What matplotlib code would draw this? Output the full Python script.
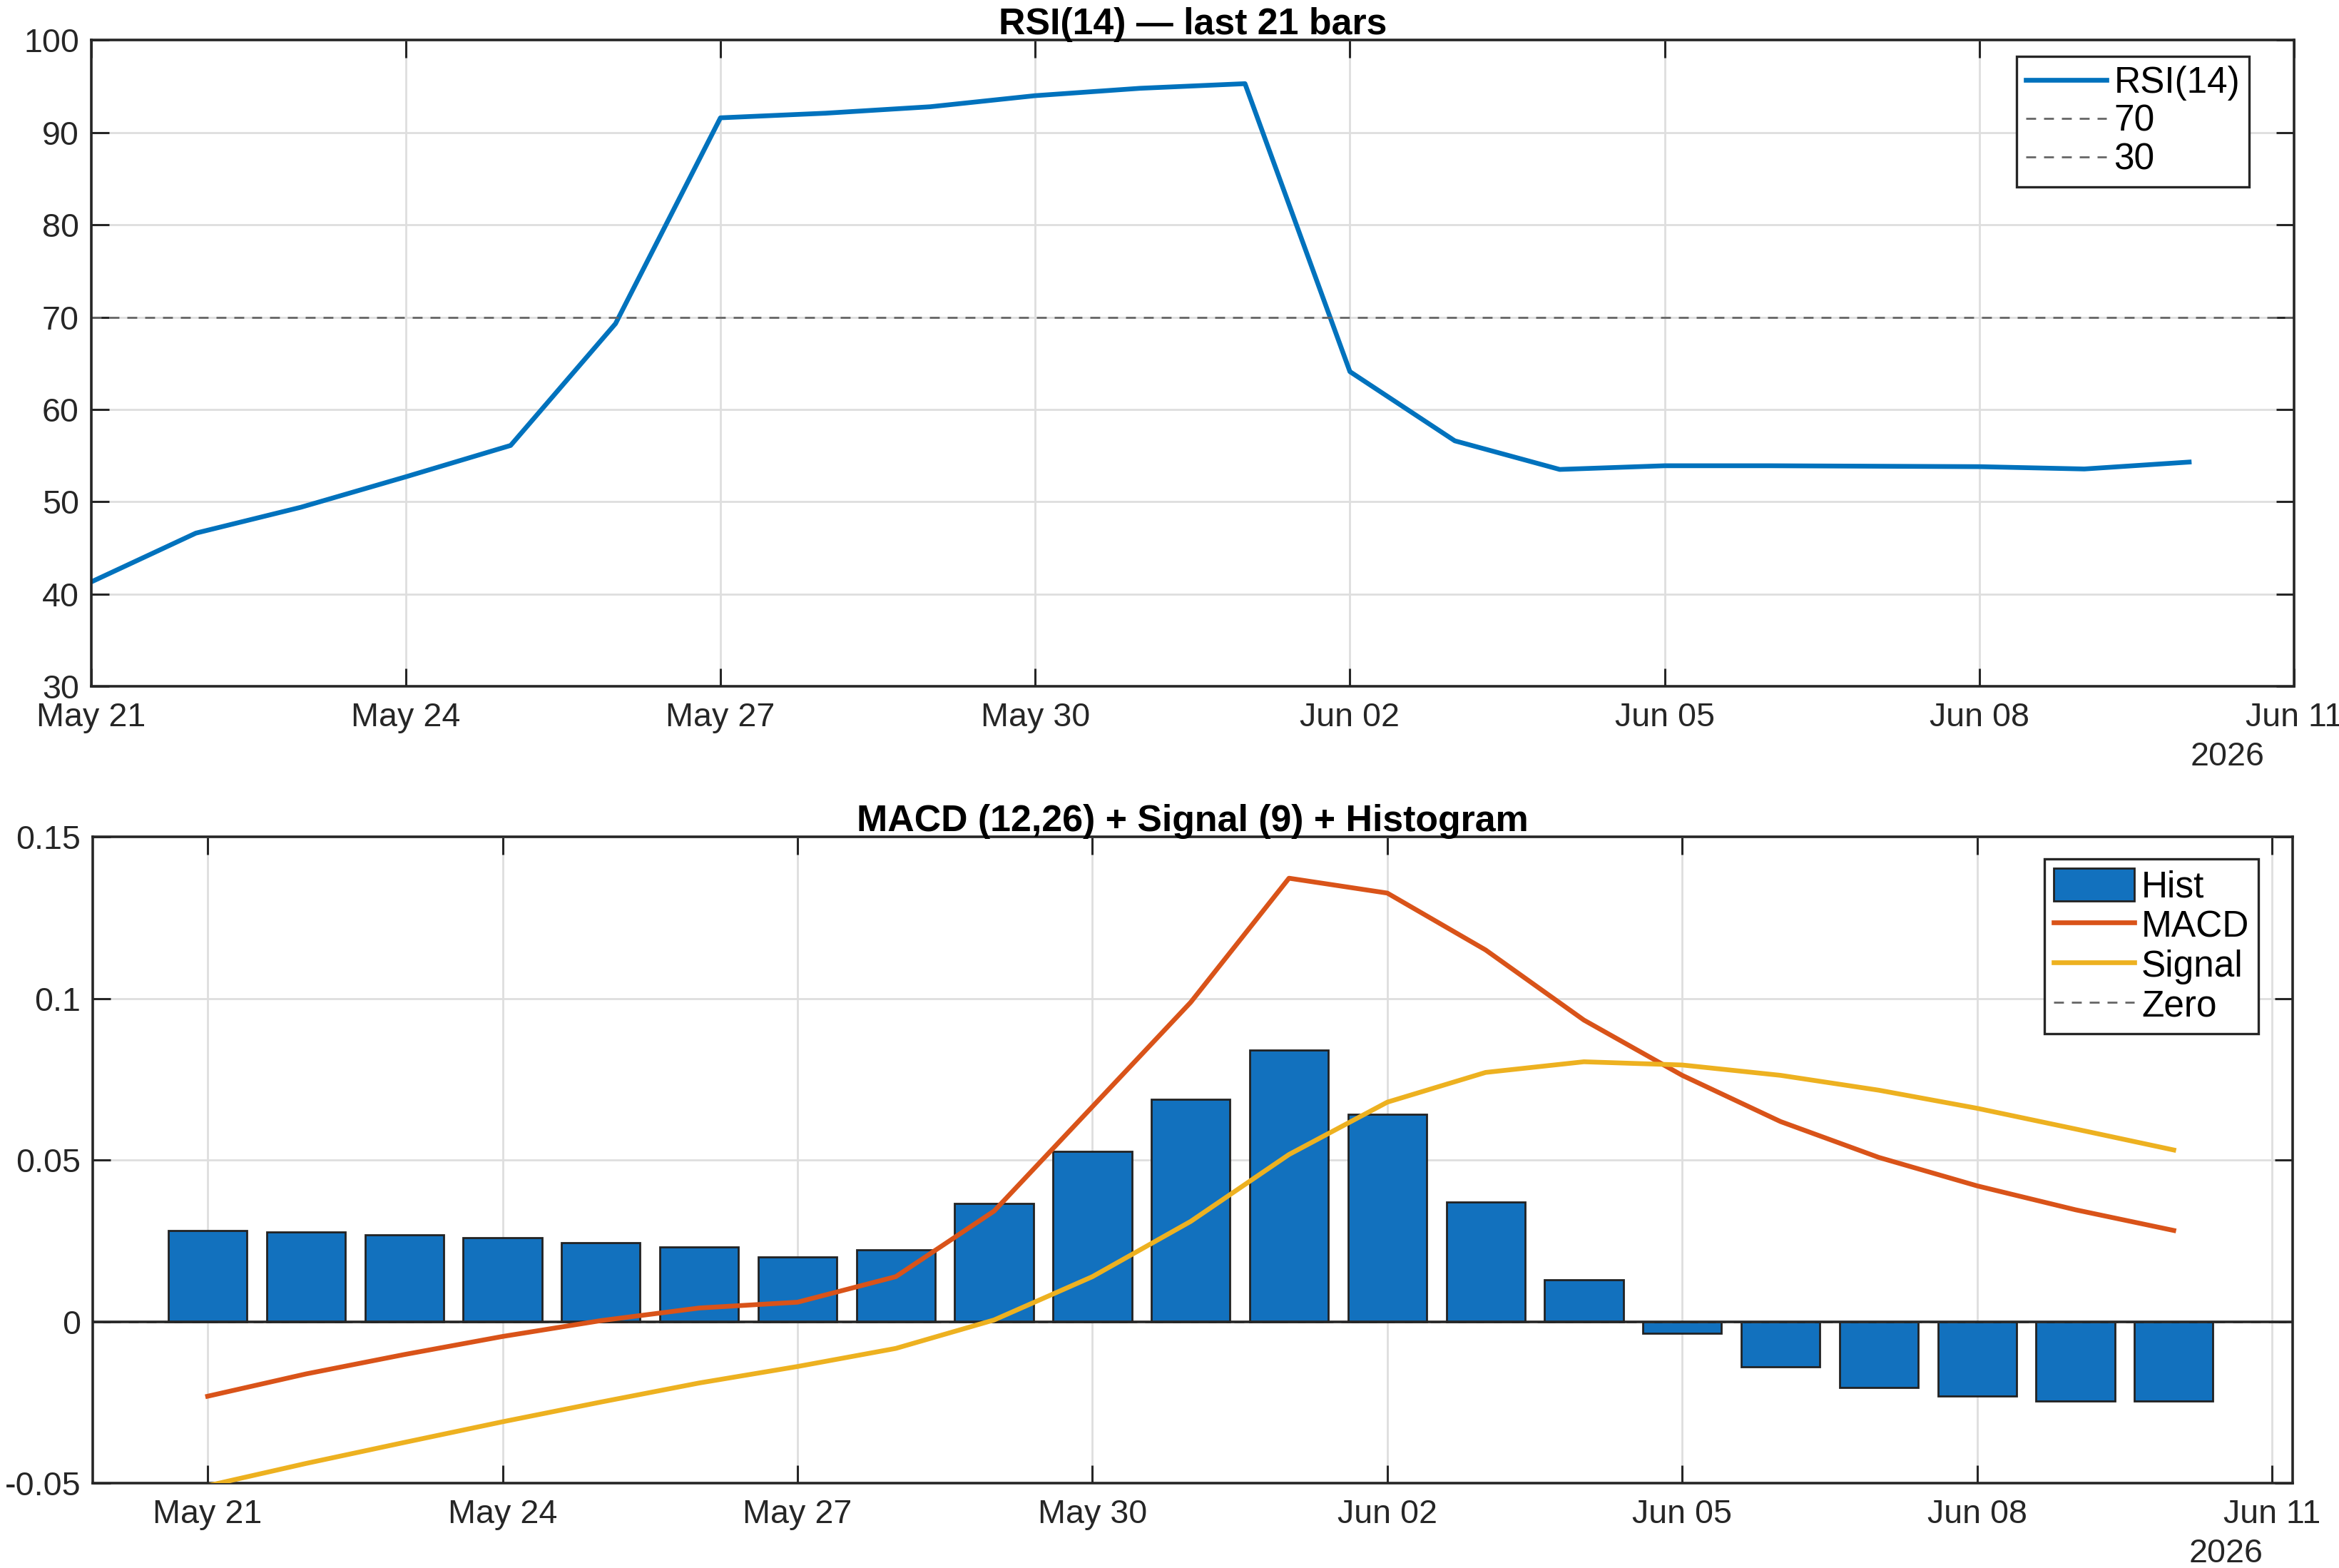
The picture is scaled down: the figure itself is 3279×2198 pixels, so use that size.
import numpy as np
import matplotlib
matplotlib.use("Agg")
import matplotlib.pyplot as plt
import matplotlib.dates as mdates
import matplotlib.transforms as mtransforms
from matplotlib.ticker import FuncFormatter, FixedLocator
from matplotlib.patches import Patch
from matplotlib.lines import Line2D
import datetime as dt

plt.rcParams['font.family'] = ['Liberation Sans', 'DejaVu Sans']

# ---------------- data ----------------
start_date = "2026-05-21"
n_bars = 21
rsi = [41.3, 46.6, 49.4, 52.7, 56.1, 69.3, 91.6, 92.1, 92.8, 94.0, 94.8, 95.3,
       64.1, 56.6, 53.5, 53.9, 53.9, 53.85, 53.8, 53.55, 54.3]
macd = [-0.0231, -0.0162, -0.0102, -0.0046, 0.0003, 0.0042, 0.0060, 0.0139,
        0.0342, 0.0665, 0.0988, 0.1372, 0.1326, 0.1150, 0.0933, 0.0762,
        0.0619, 0.0508, 0.0420, 0.0346, 0.0282]
signal = [-0.0508, -0.0439, -0.0374, -0.0310, -0.0249, -0.0190, -0.0139, -0.0083,
          0.0005, 0.0139, 0.0310, 0.0517, 0.0679, 0.0771, 0.0804, 0.0794,
          0.0762, 0.0716, 0.0660, 0.0596, 0.0531]
hist = [0.0282, 0.0277, 0.0268, 0.0259, 0.0245, 0.0231, 0.0199, 0.0222,
        0.0365, 0.0527, 0.0688, 0.0841, 0.0642, 0.0370, 0.0129, -0.0037,
        -0.0139, -0.0203, -0.0231, -0.0245, -0.0245]
tick_dates = ["2026-05-21", "2026-05-24", "2026-05-27", "2026-05-30",
              "2026-06-02", "2026-06-05", "2026-06-08", "2026-06-11"]
rsi_levels = [70, 30]
rsi_yticks = [30, 40, 50, 60, 70, 80, 90, 100]
macd_yticks = [-0.05, 0, 0.05, 0.1, 0.15]

dates = np.array([np.datetime64(start_date) + np.timedelta64(i, 'D') for i in range(n_bars)])
dnum = mdates.date2num(dates.astype('datetime64[D]').astype(dt.datetime))
tnum = mdates.date2num([dt.datetime.fromisoformat(t) for t in tick_dates])

# ---------------- style ----------------
AXC = '#262626'
BLUE = '#0072BD'
BAR = '#1271BE'
ORANGE = '#D95319'
YELLOW = '#EDB120'
REFG = '#666666'
FS = 16.8
LFS = 18.5
TFS = 18.7

fig = plt.figure(figsize=(3279/200, 2198/200), dpi=200)

def style_axes(ax):
    for s in ax.spines.values():
        s.set_color(AXC)
        s.set_linewidth(1.3)
    ax.tick_params(direction='in', length=9, width=1.1, colors=AXC, labelsize=FS,
                   top=True, right=True, labelcolor=AXC, pad=6)
    ax.tick_params(axis='x', pad=8)
    ax.grid(True, color='#dedede', linewidth=1.0)
    ax.set_axisbelow(True)
    ax.xaxis.set_major_locator(FixedLocator(tnum))
    ax.xaxis.set_major_formatter(mdates.DateFormatter('%b %d'))
    off = mtransforms.ScaledTranslation(-42/200, -99/200, fig.dpi_scale_trans)
    ax.text(1.0, 0.0, '2026', transform=ax.transAxes + off, ha='right', va='center',
            fontsize=FS, color=AXC)

# ---- RSI panel ----
ax1 = fig.add_axes([0.0389, 0.5623, 0.9419, 0.4120])
style_axes(ax1)
ax1.plot(dnum, rsi, color=BLUE, lw=2.4, label='RSI(14)')
for lv in rsi_levels:
    ax1.axhline(lv, color=REFG, lw=1.0, ls=(0, (5, 4)), label=str(lv))
ax1.set_xlim(tnum[0], tnum[-1])
ax1.set_ylim(30, 100)
ax1.set_yticks(rsi_yticks)
ax1.set_title('RSI(14) — last 21 bars', fontsize=TFS, fontweight='bold', color='black', pad=3)
leg1 = ax1.legend(loc='upper right', bbox_to_anchor=(0.9795, 0.9755), fontsize=LFS,
                  frameon=True, fancybox=False, framealpha=1, edgecolor=AXC,
                  handlelength=2.2, handletextpad=0.2, borderpad=0.25, labelspacing=0.1,
                  borderaxespad=0)
leg1.get_frame().set_linewidth(1.2)

# ---- MACD panel ----
ax2 = fig.add_axes([0.0396, 0.0541, 0.9406, 0.4122])
style_axes(ax2)
ax2.bar(dnum, hist, width=0.8, color=BAR, edgecolor='#222222', linewidth=1.0, zorder=2)
ax2.axhline(0, color=REFG, lw=1.0, ls=(0, (5, 4)), zorder=2.4)
ax2.axhline(0, color=AXC, lw=1.3, zorder=2.5)
ax2.plot(dnum, macd, color=ORANGE, lw=2.4, zorder=3)
ax2.plot(dnum, signal, color=YELLOW, lw=2.4, zorder=3)
ax2.set_xlim(tnum[0] - 1.17, tnum[-1] + 0.21)
ax2.set_ylim(-0.05, 0.15)
ax2.set_yticks(macd_yticks)
ax2.yaxis.set_major_formatter(FuncFormatter(lambda v, p: '%g' % round(v, 4)))
ax2.set_title('MACD (12,26) + Signal (9) + Histogram', fontsize=TFS, fontweight='bold',
              color='black', pad=3)
handles = [Patch(facecolor=BAR, edgecolor='#222222', linewidth=1.0),
           Line2D([], [], color=ORANGE, lw=2.4),
           Line2D([], [], color=YELLOW, lw=2.4),
           Line2D([], [], color=REFG, lw=1.0, ls=(0, (5, 4)))]
leg2 = ax2.legend(handles, ['Hist', 'MACD', 'Signal', 'Zero'], loc='upper right',
                  bbox_to_anchor=(0.9845, 0.9655), fontsize=LFS,
                  frameon=True, fancybox=False, framealpha=1, edgecolor=AXC,
                  handlelength=2.2, handleheight=1.0, handletextpad=0.2, borderpad=0.25,
                  labelspacing=0.08, borderaxespad=0)
leg2.get_frame().set_linewidth(1.2)

fig.savefig('out.png', dpi=200)
